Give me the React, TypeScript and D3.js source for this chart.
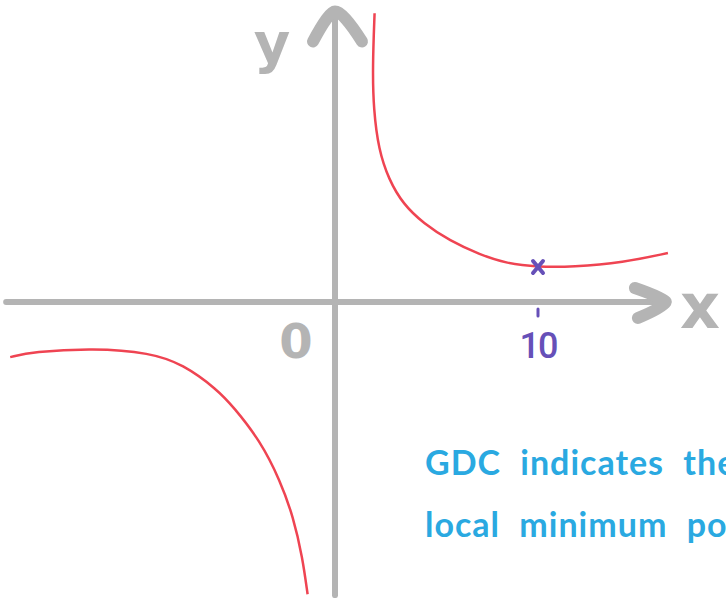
import React from 'react';
import * as d3 from 'd3';

// hand drawn branches of the curve (x in units, y in units)
const rightX = [1.95, 1.85, 1.9, 2.15, 2.65, 3.35, 4.35, 5.65, 7.15, 8.45, 10, 11.7, 14.2, 16.4];
const rightY = [165, 134, 110, 87, 70, 56, 45, 35, 27, 22, 20, 20, 22.5, 28];
const leftX = [-16, -14.9, -11.9, -9.1, -7.5, -5.8, -5.0, -3.7, -2.7, -2.05, -1.6, -1.35];
const leftY = [-31.5, -28.5, -26.3, -29, -35.5, -50, -60, -79, -102, -123, -146, -167];

const minPoint = [10, 20];
const xTicks = [10];
const noteLines = ['GDC indicates the', 'local minimum point'];

const W = 726;
const H = 598;
const GREY = '#b4b4b4';
const RED = '#ef4452';
const PURPLE = '#6650b8';
const BLUE = '#2aa9e1';

export default function App() {
	const x = d3.scaleLinear().domain([0, 10]).range([335, 538]);
	const y = d3.scaleLinear().domain([0, 20]).range([302, 267]);

	const line = d3.line<number>()
		.x(d => x(d[0]))
		.y(d => y(d[1]))
		.curve(d3.curveBasis);

	const right = rightX.map((v, i) => [v, rightY[i]]);
	const left = leftX.map((v, i) => [v, leftY[i]]);

	// axis extents
	const x0 = x(-16.2), x1 = x(16.3);
	const yTop = y(166), yBot = y(-167.5);
	const ox = x(0), oy = y(0);

	return (
		<svg width={W} height={H} style={{position: 'absolute', left: 0, top: 0, background: '#fff'}}>
			<g stroke={GREY} fill="none" strokeLinecap="round" strokeLinejoin="round">
				{/* axes */}
				<line x1={x0} y1={oy} x2={x1} y2={oy} strokeWidth={6} />
				<line x1={ox} y1={yTop} x2={ox} y2={yBot} strokeWidth={6} />
				{/* arrow heads */}
				<path d={`M${ox - 22},${yTop + 30} Q${ox - 6},${yTop} ${ox},${yTop} Q${ox + 8},${yTop} ${ox + 27},${yTop + 30}`} strokeWidth={12} />
				<path d={`M${x1 - 31},${oy - 14} Q${x1 - 2},${oy - 4} ${x1},${oy} Q${x1 - 4},${oy + 6} ${x1 - 28},${oy + 16}`} strokeWidth={12} />
			</g>
			<g fill={GREY} fontFamily="'DejaVu Sans', sans-serif" fontWeight="bold">
				<text x={272} y={62} fontSize={56} textAnchor="middle">y</text>
				<text x={700} y={328} fontSize={62} textAnchor="middle">x</text>
				<text x={296} y={358} fontSize={48} textAnchor="middle">0</text>
			</g>

			<path d={line(right) || ''} fill="none" stroke={RED} strokeWidth={2.5} />
			<path d={line(left) || ''} fill="none" stroke={RED} strokeWidth={2.5} />

			{/* minimum point and its x tick */}
			<g stroke={PURPLE} strokeWidth={4} strokeLinecap="round">
				<line x1={x(minPoint[0]) - 5} y1={y(minPoint[1]) - 6} x2={x(minPoint[0]) + 5} y2={y(minPoint[1]) + 6} />
				<line x1={x(minPoint[0]) + 5} y1={y(minPoint[1]) - 6} x2={x(minPoint[0]) - 5} y2={y(minPoint[1]) + 6} />
				{xTicks.map(t => (
					<line key={t} x1={x(t)} y1={oy + 7} x2={x(t)} y2={oy + 14} strokeWidth={3} />
				))}
			</g>
			{xTicks.map(t => (
				<text key={t} x={x(t)} y={358} fill={PURPLE} fontSize={36} fontFamily="Roboto, sans-serif"
					fontWeight={500} textAnchor="middle" letterSpacing={-2}>{t}</text>
			))}

			<g fill={BLUE} fontFamily="Lato, sans-serif" fontWeight="bold" fontSize={34}>
				{noteLines.map((s, i) => (
					<text key={i} x={425} y={475 + i * 62} letterSpacing={1} wordSpacing={10}>{s}</text>
				))}
			</g>
		</svg>
	);
}
